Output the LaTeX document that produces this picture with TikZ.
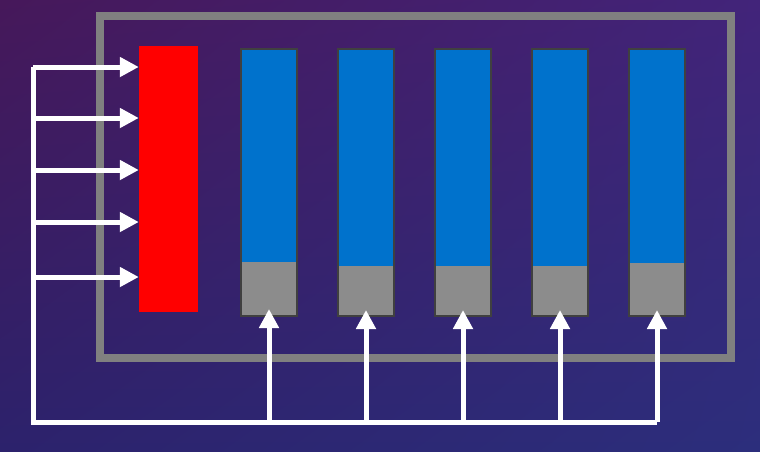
\documentclass[tikz,border=0pt]{standalone}
\usepackage{tikz}
\usetikzlibrary{positioning, arrows.meta, shadings}
\definecolor{bgtl}{RGB}{70,24,90}
\definecolor{bgtr}{RGB}{66,36,122}
\definecolor{bgbl}{RGB}{44,34,108}
\definecolor{bgbr}{RGB}{44,46,124}
\definecolor{barblue}{RGB}{0,114,204}
\definecolor{bardark}{RGB}{64,64,64}
\definecolor{slotgray}{RGB}{140,140,140}
\definecolor{framegray}{RGB}{128,128,128}
\tikzstyle{feed} = [rectangle, minimum width=59pt, minimum height=266pt, inner sep=0pt, fill=red]
\tikzstyle{bar} = [rectangle, minimum width=56pt, minimum height=267pt, inner sep=0pt, fill=barblue, draw=bardark, line width=2pt]
\tikzstyle{slot} = [rectangle, minimum width=54pt, inner sep=0pt, outer sep=0pt, anchor=south, fill=slotgray]
\tikzstyle{frame} = [draw=framegray, line width=8pt]
\tikzstyle{wire} = [white, line width=5pt]
\tikzstyle{arrow} = [white, line width=5pt, -{Triangle[length=19pt, width=19pt]}]
\begin{document}
\begin{tikzpicture}[x=1pt, y=-1pt, node distance=39pt]
        \shade[upper left=bgtl, upper right=bgtr, lower left=bgbl, lower right=bgbr] (0,0) rectangle (760,451);
        \useasboundingbox (0,0) rectangle (760,451);
        \draw[frame] (100,16) rectangle (731,358);

        \node[feed]                                 (red) at (168.5,179) {};
        \node[bar]                                  (b1)  at (269,182.5) {};
        \node[bar, right=of b1]                     (b2)  {};
        \node[bar, right=of b2]                     (b3)  {};
        \node[bar, right=of b3]                     (b4)  {};
        \node[bar, right=of b4]                     (b5)  {};
        \node[slot, minimum height=53pt]            (s1)  at ([yshift=2pt]b1.south) {};
        \node[slot, minimum height=49pt]            (s2)  at ([yshift=2pt]b2.south) {};
        \node[slot, minimum height=49pt]            (s3)  at ([yshift=2pt]b3.south) {};
        \node[slot, minimum height=49pt]            (s4)  at ([yshift=2pt]b4.south) {};
        \node[slot, minimum height=52pt]            (s5)  at ([yshift=2pt]b5.south) {};

        \coordinate (h1) at (33,67);
        \coordinate (h2) at (33,118);
        \coordinate (h3) at (33,170);
        \coordinate (h4) at (33,222);
        \coordinate (h5) at (33,277);
        \coordinate (bus) at (33,422);

        \draw[wire] (h1) -- (bus) -- (bus -| s5.south);

        \draw[arrow] (h1) -- (h1 -| red.west);
        \draw[arrow] (h2) -- (h2 -| red.west);
        \draw[arrow] (h3) -- (h3 -| red.west);
        \draw[arrow] (h4) -- (h4 -| red.west);
        \draw[arrow] (h5) -- (h5 -| red.west);

        \draw[arrow] (bus -| s1.south) -- ([yshift=6pt]s1.south);
        \draw[arrow] (bus -| s2.south) -- ([yshift=5pt]s2.south);
        \draw[arrow] (bus -| s3.south) -- ([yshift=5pt]s3.south);
        \draw[arrow] (bus -| s4.south) -- ([yshift=5pt]s4.south);
        \draw[arrow] (bus -| s5.south) -- ([yshift=5pt]s5.south);
    \end{tikzpicture}
\end{document}
